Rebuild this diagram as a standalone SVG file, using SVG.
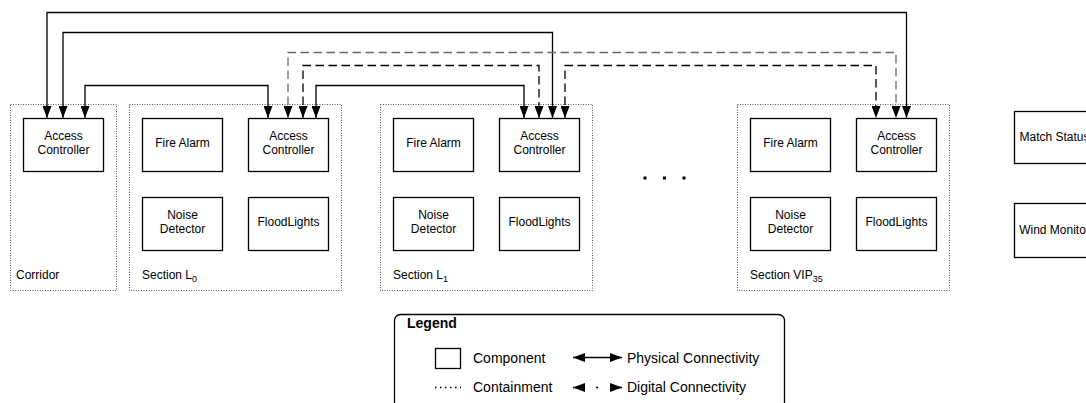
<svg xmlns="http://www.w3.org/2000/svg" width="1086" height="403" viewBox="0 0 1086 403">
  <style>
    text { font-family: "Liberation Sans", Arial, sans-serif; fill: #000; }
    .lbl { font-size: 12px; text-anchor: middle; }
    .cap { font-size: 12px; }
    .sub { font-size: 9px; }
    .comp { fill: #fff; stroke: #000; stroke-width: 1.3; }
    .cont { fill: none; stroke: #555; stroke-width: 1; stroke-dasharray: 1 1.5; }
    .phys { fill: none; stroke: #000; stroke-width: 1.3; marker-start: url(#head); marker-end: url(#head); }
    .dig { fill: none; stroke: #000; stroke-width: 1.3; stroke-dasharray: 8.5 4.5; marker-start: url(#head); marker-end: url(#head); }
    .dig.grey { stroke: #6a6a6a; }
    .legtxt { font-size: 14px; }
  </style>
  <defs>
    <marker id="head" viewBox="0 0 12 9" markerWidth="12" markerHeight="9" refX="12" refY="4.5" orient="auto-start-reverse" markerUnits="userSpaceOnUse">
      <path d="M0,0 L12,4.5 L0,9 z" fill="#000"/>
    </marker>
  </defs>

  <!-- containers -->
  <g id="corridor">
    <rect class="cont" x="10.5" y="104.5" width="106" height="186"/>
    <text class="cap" x="16" y="279">Corridor</text>
  </g>
  <g id="section-l0">
    <rect class="cont" x="129.5" y="104.5" width="212" height="186"/>
    <text class="cap" x="142" y="279">Section L<tspan class="sub" dy="2.5">0</tspan></text>
  </g>
  <g id="section-l1">
    <rect class="cont" x="380.5" y="104.5" width="212" height="186"/>
    <text class="cap" x="393" y="279">Section L<tspan class="sub" dy="2.5">1</tspan></text>
  </g>
  <g id="section-vip35">
    <rect class="cont" x="737.5" y="104.5" width="212" height="186"/>
    <text class="cap" x="750" y="279">Section VIP<tspan class="sub" dy="2.5">35</tspan></text>
  </g>

  <!-- components: corridor -->
  <g id="corridor-access">
    <rect class="comp" x="23.5" y="118.5" width="80" height="53"/>
    <text class="lbl" x="63.5" y="140">Access</text>
    <text class="lbl" x="63.5" y="154">Controller</text>
  </g>

  <!-- components: section L0 -->
  <g id="l0-fire">
    <rect class="comp" x="142.5" y="118.5" width="80" height="53"/>
    <text class="lbl" x="182.5" y="147">Fire Alarm</text>
  </g>
  <g id="l0-access">
    <rect class="comp" x="248.5" y="118.5" width="80" height="53"/>
    <text class="lbl" x="288.5" y="140">Access</text>
    <text class="lbl" x="288.5" y="154">Controller</text>
  </g>
  <g id="l0-noise">
    <rect class="comp" x="142.5" y="197.5" width="80" height="53"/>
    <text class="lbl" x="182.5" y="219">Noise</text>
    <text class="lbl" x="182.5" y="233">Detector</text>
  </g>
  <g id="l0-flood">
    <rect class="comp" x="248.5" y="197.5" width="80" height="53"/>
    <text class="lbl" x="288.5" y="226">FloodLights</text>
  </g>

  <!-- components: section L1 -->
  <g id="l1-fire">
    <rect class="comp" x="393.5" y="118.5" width="80" height="53"/>
    <text class="lbl" x="433.5" y="147">Fire Alarm</text>
  </g>
  <g id="l1-access">
    <rect class="comp" x="499.5" y="118.5" width="80" height="53"/>
    <text class="lbl" x="539.5" y="140">Access</text>
    <text class="lbl" x="539.5" y="154">Controller</text>
  </g>
  <g id="l1-noise">
    <rect class="comp" x="393.5" y="197.5" width="80" height="53"/>
    <text class="lbl" x="433.5" y="219">Noise</text>
    <text class="lbl" x="433.5" y="233">Detector</text>
  </g>
  <g id="l1-flood">
    <rect class="comp" x="499.5" y="197.5" width="80" height="53"/>
    <text class="lbl" x="539.5" y="226">FloodLights</text>
  </g>

  <!-- ellipsis between sections -->
  <g id="ellipsis" fill="#000">
    <rect x="643.5" y="176.5" width="3" height="3"/>
    <rect x="663" y="176.5" width="3" height="3"/>
    <rect x="682.5" y="176.5" width="3" height="3"/>
  </g>

  <!-- components: section VIP35 -->
  <g id="vip-fire">
    <rect class="comp" x="750.5" y="118.5" width="80" height="53"/>
    <text class="lbl" x="790.5" y="147">Fire Alarm</text>
  </g>
  <g id="vip-access">
    <rect class="comp" x="856.5" y="118.5" width="80" height="53"/>
    <text class="lbl" x="896.5" y="140">Access</text>
    <text class="lbl" x="896.5" y="154">Controller</text>
  </g>
  <g id="vip-noise">
    <rect class="comp" x="750.5" y="197.5" width="80" height="53"/>
    <text class="lbl" x="790.5" y="219">Noise</text>
    <text class="lbl" x="790.5" y="233">Detector</text>
  </g>
  <g id="vip-flood">
    <rect class="comp" x="856.5" y="197.5" width="80" height="53"/>
    <text class="lbl" x="896.5" y="226">FloodLights</text>
  </g>

  <!-- stadium-wide components -->
  <g id="match-status">
    <rect class="comp" x="1014.5" y="111.5" width="80" height="52"/>
    <text class="lbl" x="1054.5" y="141">Match Status</text>
  </g>
  <g id="wind-monitor">
    <rect class="comp" x="1014.5" y="203.5" width="80" height="54"/>
    <text class="lbl" x="1054.5" y="234">Wind Monitor</text>
  </g>

  <!-- connectors -->
  <g id="connectors">
    <path class="phys" d="M47,118 V12.5 H906.5 V118"/>
    <path class="phys" d="M63,118 V32.5 H552.5 V118"/>
    <path class="phys" d="M85,118 V85.5 H268 V118"/>
    <path class="dig grey" d="M288,118 V52.5 H896 V118"/>
    <path class="dig" d="M303,118 V65.5 H539 V118"/>
    <path class="phys" d="M316,118 V85.5 H524 V118"/>
    <path class="dig" d="M565,118 V65.5 H876 V118"/>
  </g>

  <!-- legend -->
  <g id="legend">
    <rect x="394.5" y="314.5" width="390" height="120" rx="6" fill="#fff" stroke="#000" stroke-width="1.3"/>
    <text x="407" y="328" font-size="14" font-weight="bold">Legend</text>
    <rect class="comp" x="435.5" y="348.5" width="25" height="20"/>
    <text class="legtxt" x="473" y="363">Component</text>
    <line x1="435" y1="387.5" x2="461" y2="387.5" stroke="#000" stroke-width="1.3" stroke-dasharray="1.5 3.5"/>
    <text class="legtxt" x="473" y="392">Containment</text>
    <line x1="573" y1="357.5" x2="622" y2="357.5" class="phys"/>
    <text class="legtxt" x="627" y="363">Physical Connectivity</text>
    <line x1="573" y1="387.5" x2="622" y2="387.5" fill="none" stroke="#000" stroke-width="1.3" stroke-dasharray="12 11 2 12 20" marker-start="url(#head)" marker-end="url(#head)"/>
    <text class="legtxt" x="627" y="392">Digital Connectivity</text>
  </g>
</svg>
